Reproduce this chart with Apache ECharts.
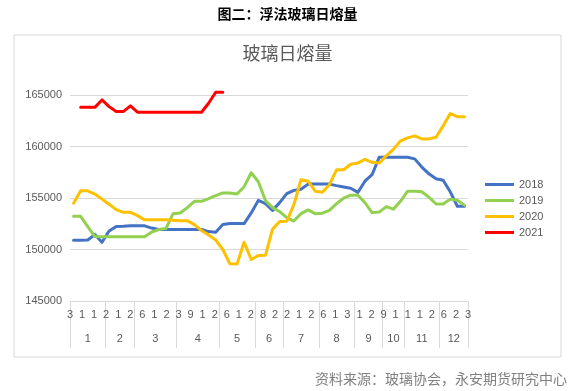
<!DOCTYPE html>
<html>
<head>
<meta charset="utf-8">
<script src="https://cdn.jsdelivr.net/npm/echarts@6/dist/echarts.min.js"></script>
<style>html,body{margin:0;padding:0;background:#fff;}#c{width:575px;height:391px;}</style>
</head>
<body>
<div id="c"></div>
<script>
// ---- data ----
const months = ['1','2','3','4','5','6','7','8','9','10','11','12'];
const monthCounts = [5,4,6,6,5,4,5,5,4,3,5,4];
const dayLabels = ['3','1','1','2','1','2','6','1','2','3','9','1','2','6','1','2','8','2','2','1','2','6','1','3','1','2','9','1','1','1','2','6','2','3'];
const years = ['2018','2019','2020','2021'];
const s2018 = [150900,150900,150920,151450,150700,151800,152230,152250,152300,152300,
  152300,152080,151940,151940,151940,151940,151940,151940,151940,151740,
  151670,152420,152520,152520,152520,153550,154770,154450,153800,154550,
  155420,155740,155850,156350,156350,156350,156350,156200,156070,155950,
  155550,156630,157260,158950,158950,158950,158950,158950,158800,158000,
  157350,156870,156730,155600,154200,154200];
const s2019 = [153220,153220,152230,151260,151230,151230,151230,151230,151230,151230,
  151230,151700,151940,152030,153480,153550,154060,154680,154680,154940,
  155230,155490,155490,155380,156100,157450,156580,154750,154070,153680,
  153100,152760,153480,153840,153480,153530,153800,154450,154980,155270,
  155270,154550,153580,153630,154160,153920,154680,155660,155660,155610,
  155080,154420,154420,154890,154790,154310];
const s2020 = [154500,155700,155700,155380,154890,154400,153870,153610,153610,153290,
  152880,152900,152900,152900,152850,152800,152800,152420,151840,151400,
  150920,150000,148620,148600,150700,149030,149420,149450,151980,152710,
  152740,154360,156780,156630,155660,155550,156290,157740,157740,158280,
  158390,158760,158470,158390,159100,159720,160550,160840,161030,160740,
  160740,160890,162000,163200,162900,162900];
const s2021 = [null,163800,163800,163800,164520,163870,163390,163390,163940,163330,
  163330,163330,163330,163330,163330,163330,163330,163330,163330,164200,
  165270,165270];
const yTicks = {min:145000, max:165000, step:5000};

// ---- derived ----
const N = monthCounts.reduce((a,b)=>a+b,0);
const weekCats = Array.from({length:N},(_,i)=>'W'+(i+1));
const bounds = [0];
monthCounts.forEach(c=>bounds.push(bounds[bounds.length-1]+c));
const centers = monthCounts.map((c,i)=>bounds[i]+c/2);

const FONT = '"Liberation Sans","Noto Sans CJK SC",sans-serif';
const GRAY = '#595959', LINE = '#d9d9d9';
const colors = ['#4472C4','#92D050','#FFC000','#FF0000'];
const seriesData = [s2018,s2019,s2020,s2021];

const chart = echarts.init(document.getElementById('c'));
chart.setOption({
  animation:false,
  textStyle:{fontFamily:FONT},
  title:[
    {text:'图二：浮法玻璃日熔量', left:'center', top:3,
     textStyle:{fontSize:14, fontWeight:'bold', color:'#000', fontFamily:FONT}},
    {text:'玻璃日熔量', left:'center', top:41,
     textStyle:{fontSize:18, fontWeight:'normal', color:GRAY, fontFamily:FONT}},
    {text:'资料来源：玻璃协会，永安期货研究中心', right:3, top:368,
     textStyle:{fontSize:14, fontWeight:'normal', color:'#7f7f7f', fontFamily:FONT}}
  ],
  graphic:[{type:'rect', shape:{x:14,y:35,width:547,height:322},
    style:{fill:'none', stroke:LINE, lineWidth:1}, silent:true}],
  legend:{orient:'vertical', left:480, top:174, icon:'rect', itemWidth:29, itemHeight:3,
    itemGap:5, data:years, textStyle:{fontSize:11, color:GRAY, fontFamily:FONT}},
  grid:{left:70, right:107, top:95, bottom:90, containLabel:false},
  xAxis:[
    {type:'category', data:weekCats, boundaryGap:true, position:'bottom',
     axisLine:{show:true, lineStyle:{color:LINE, width:1}},
     axisTick:{show:false}, axisLabel:{show:false}, splitLine:{show:false}},
    {type:'category', data:dayLabels, boundaryGap:false, position:'bottom', offset:0,
     axisLine:{show:false}, axisTick:{show:false}, splitLine:{show:false},
     axisLabel:{interval:0, margin:8, fontSize:11, color:GRAY, fontFamily:FONT}},
    {type:'value', min:0, max:N, position:'bottom', offset:47,
     axisLine:{show:false}, splitLine:{show:false},
     axisTick:{show:true, inside:true, length:47, customValues:bounds, lineStyle:{color:LINE}},
     axisLabel:{show:true, inside:true, margin:4, fontSize:11, color:GRAY, fontFamily:FONT,
       customValues:centers,
       formatter:(v)=>{const k=centers.findIndex(c=>Math.abs(c-v)<1e-6); return k>=0?months[k]:'';}}}
  ],
  yAxis:{type:'value', min:yTicks.min, max:yTicks.max, interval:yTicks.step,
    axisLine:{show:false}, axisTick:{show:false},
    splitLine:{lineStyle:{color:LINE, width:1}},
    axisLabel:{margin:8, fontSize:11, color:GRAY, fontFamily:FONT, formatter:(v)=>String(v)}},
  series: years.map((y,i)=>({
    name:y, type:'line', xAxisIndex:0, data:seriesData[i], showSymbol:false, symbol:'none',
    clip:false, connectNulls:false, color:colors[i],
    lineStyle:{width:3, color:colors[i], cap:'round', join:'round'},
    emphasis:{disabled:true}, z: i===3?5:2
  }))
});
</script>
</body>
</html>
